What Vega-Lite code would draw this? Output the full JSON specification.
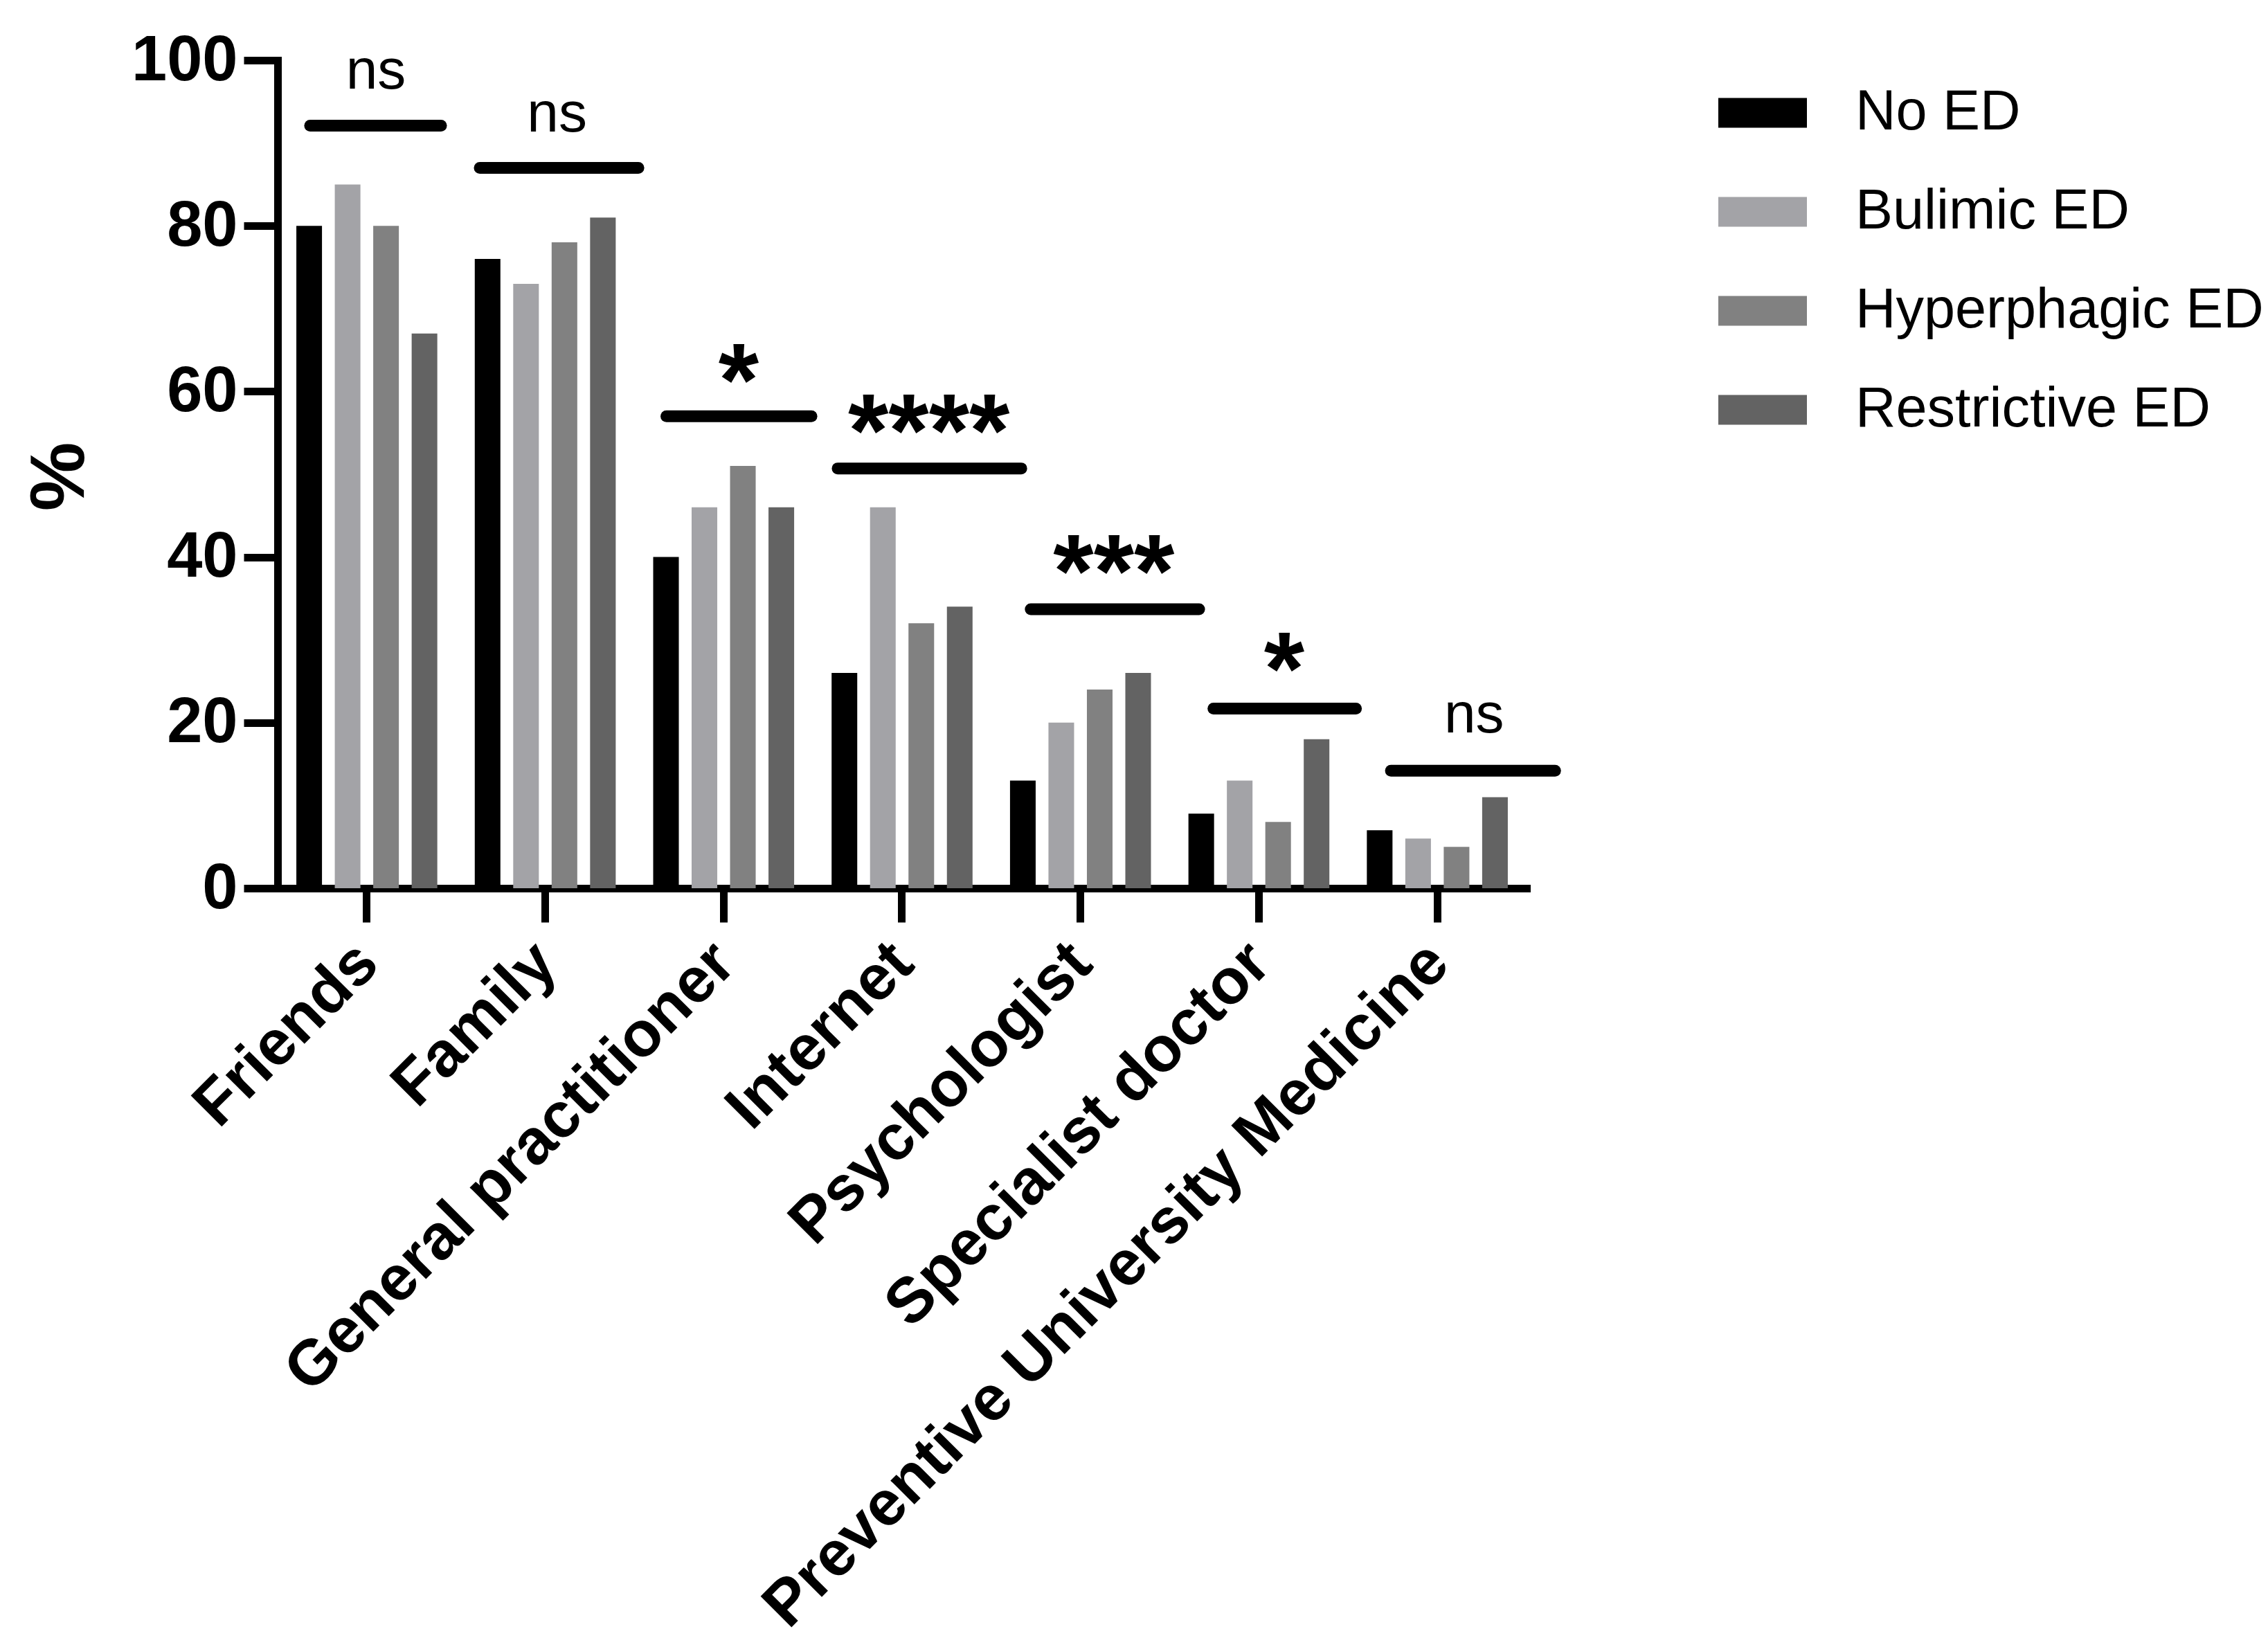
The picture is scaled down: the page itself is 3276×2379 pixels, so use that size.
{
  "$schema": "https://vega.github.io/schema/vega-lite/v6.json",
  "autosize": "none",
  "width": 1804,
  "height": 1196,
  "padding": {"left": 401, "top": 87, "right": 1071, "bottom": 1096},
  "background": "white",
  "config": {
    "view": {"stroke": null},
    "font": "Liberation Sans",
    "axis": {"grid": false}
  },
  "datasets": {
    "bars": [
      {"source": "Friends", "group": "No ED", "pct": 80},
      {"source": "Friends", "group": "Bulimic ED", "pct": 85},
      {"source": "Friends", "group": "Hyperphagic ED", "pct": 80},
      {"source": "Friends", "group": "Restrictive ED", "pct": 67},
      {"source": "Family", "group": "No ED", "pct": 76},
      {"source": "Family", "group": "Bulimic ED", "pct": 73},
      {"source": "Family", "group": "Hyperphagic ED", "pct": 78},
      {"source": "Family", "group": "Restrictive ED", "pct": 81},
      {"source": "General practitioner", "group": "No ED", "pct": 40},
      {"source": "General practitioner", "group": "Bulimic ED", "pct": 46},
      {"source": "General practitioner", "group": "Hyperphagic ED", "pct": 51},
      {"source": "General practitioner", "group": "Restrictive ED", "pct": 46},
      {"source": "Internet", "group": "No ED", "pct": 26},
      {"source": "Internet", "group": "Bulimic ED", "pct": 46},
      {"source": "Internet", "group": "Hyperphagic ED", "pct": 32},
      {"source": "Internet", "group": "Restrictive ED", "pct": 34},
      {"source": "Psychologist", "group": "No ED", "pct": 13},
      {"source": "Psychologist", "group": "Bulimic ED", "pct": 20},
      {"source": "Psychologist", "group": "Hyperphagic ED", "pct": 24},
      {"source": "Psychologist", "group": "Restrictive ED", "pct": 26},
      {"source": "Specialist doctor", "group": "No ED", "pct": 9},
      {"source": "Specialist doctor", "group": "Bulimic ED", "pct": 13},
      {"source": "Specialist doctor", "group": "Hyperphagic ED", "pct": 8},
      {"source": "Specialist doctor", "group": "Restrictive ED", "pct": 18},
      {"source": "Preventive University Medicine", "group": "No ED", "pct": 7},
      {"source": "Preventive University Medicine", "group": "Bulimic ED", "pct": 6},
      {"source": "Preventive University Medicine", "group": "Hyperphagic ED", "pct": 5},
      {"source": "Preventive University Medicine", "group": "Restrictive ED", "pct": 11}
    ],
    "sig": [
      {"source": "Friends", "x1": 0.182, "x2": 0.916, "ly": 92.1, "label": "ns", "kind": "ns", "xc": 0.551, "ty": 96.6},
      {"source": "Family", "x1": 1.133, "x2": 2.022, "ly": 87.0, "label": "ns", "kind": "ns", "xc": 1.566, "ty": 91.4},
      {"source": "General practitioner", "x1": 2.179, "x2": 2.992, "ly": 57.0, "label": "*", "kind": "star", "xc": 2.584, "ty": 63.4},
      {"source": "Internet", "x1": 3.139, "x2": 4.168, "ly": 50.7, "label": "****", "kind": "star", "xc": 3.650, "ty": 57.3},
      {"source": "Psychologist", "x1": 4.221, "x2": 5.165, "ly": 33.7, "label": "***", "kind": "star", "xc": 4.687, "ty": 40.3},
      {"source": "Specialist doctor", "x1": 5.245, "x2": 6.044, "ly": 21.7, "label": "*", "kind": "star", "xc": 5.642, "ty": 28.5},
      {"source": "Preventive University Medicine", "x1": 6.240, "x2": 7.160, "ly": 14.2, "label": "ns", "kind": "ns", "xc": 6.706, "ty": 18.8}
    ]
  },
  "layer": [
    {
      "data": {"name": "bars"},
      "mark": {"type": "bar"},
      "encoding": {
        "x": {
          "field": "source", "type": "nominal",
          "sort": ["Friends", "Family", "General practitioner", "Internet", "Psychologist", "Specialist doctor", "Preventive University Medicine"],
          "scale": {"paddingInner": 0.21, "paddingOuter": 0.105},
          "axis": {
            "title": null,
            "domainColor": "black", "domainWidth": 11, "domainCap": "square",
            "tickColor": "black", "tickWidth": 11, "tickSize": 49,
            "labelAngle": -45, "labelAlign": "right", "labelBaseline": "alphabetic",
            "labelFont": "Liberation Sans", "labelFontWeight": "bold", "labelFontSize": 92,
            "labelColor": "black", "labelPadding": 64, "labelOffset": 21, "labelLimit": 3000
          }
        },
        "xOffset": {
          "field": "group", "type": "nominal",
          "sort": ["No ED", "Bulimic ED", "Hyperphagic ED", "Restrictive ED"],
          "scale": {"paddingInner": 0.333, "paddingOuter": 0}
        },
        "y": {
          "field": "pct", "type": "quantitative",
          "scale": {"domain": [0, 100], "nice": false},
          "axis": {
            "title": "%", "values": [0, 20, 40, 60, 80, 100],
            "domainColor": "black", "domainWidth": 11, "domainCap": "square",
            "tickColor": "black", "tickWidth": 11, "tickSize": 49,
            "labelFont": "Liberation Sans", "labelFontWeight": "bold", "labelFontSize": 92,
            "labelColor": "black", "labelPadding": 9,
            "titleFont": "Liberation Sans", "titleFontWeight": "bold", "titleFontSize": 112,
            "titleColor": "black", "titleX": -315, "titleY": 601, "titleAlign": "center", "titleBaseline": "middle", "titleAngle": -90
          }
        },
        "color": {
          "field": "group", "type": "nominal",
          "sort": ["No ED", "Bulimic ED", "Hyperphagic ED", "Restrictive ED"],
          "scale": {"domain": ["No ED", "Bulimic ED", "Hyperphagic ED", "Restrictive ED"], "range": ["#000000", "#a3a3a7", "#818181", "#636363"]},
          "legend": {
            "title": null, "orient": "none", "legendX": 2081, "legendY": 12,
            "padding": 0,
            "symbolType": "M-1,-0.336H1V0.336H-1Z", "symbolSize": 16384,
            "symbolStrokeWidth": 0, "symbolOpacity": 1,
            "labelFont": "Liberation Sans", "labelFontSize": 81, "labelColor": "black",
            "labelOffset": 70, "rowPadding": 39, "labelLimit": 2000
          }
        }
      }
    },
    {
      "data": {"name": "sig"},
      "mark": {"type": "rule", "strokeWidth": 17, "strokeCap": "round", "color": "black"},
      "encoding": {
        "x": {"field": "x1", "type": "quantitative", "scale": {"domain": [0, 7], "nice": false, "zero": false}, "axis": null},
        "x2": {"field": "x2"},
        "y": {"field": "ly", "type": "quantitative", "title": "%"}
      }
    },
    {
      "data": {"name": "sig"},
      "transform": [{"filter": "datum.kind === 'ns'"}],
      "mark": {"type": "text", "font": "Liberation Sans", "fontSize": 82, "fontWeight": "normal", "color": "black", "baseline": "alphabetic", "align": "center"},
      "encoding": {
        "x": {"field": "xc", "type": "quantitative", "scale": {"domain": [0, 7], "nice": false, "zero": false}, "axis": null},
        "y": {"field": "ty", "type": "quantitative", "title": "%"},
        "text": {"field": "label"}
      }
    },
    {
      "data": {"name": "sig"},
      "transform": [{"filter": "datum.kind === 'star'"}],
      "mark": {"type": "text", "font": "Liberation Sans", "fontSize": 150, "fontWeight": "bold", "color": "black", "baseline": "alphabetic", "align": "center", "dy": 76},
      "encoding": {
        "x": {"field": "xc", "type": "quantitative", "scale": {"domain": [0, 7], "nice": false, "zero": false}, "axis": null},
        "y": {"field": "ty", "type": "quantitative", "title": "%"},
        "text": {"field": "label"}
      }
    }
  ],
  "resolve": {"scale": {"x": "independent"}, "axis": {"x": "independent"}}
}
